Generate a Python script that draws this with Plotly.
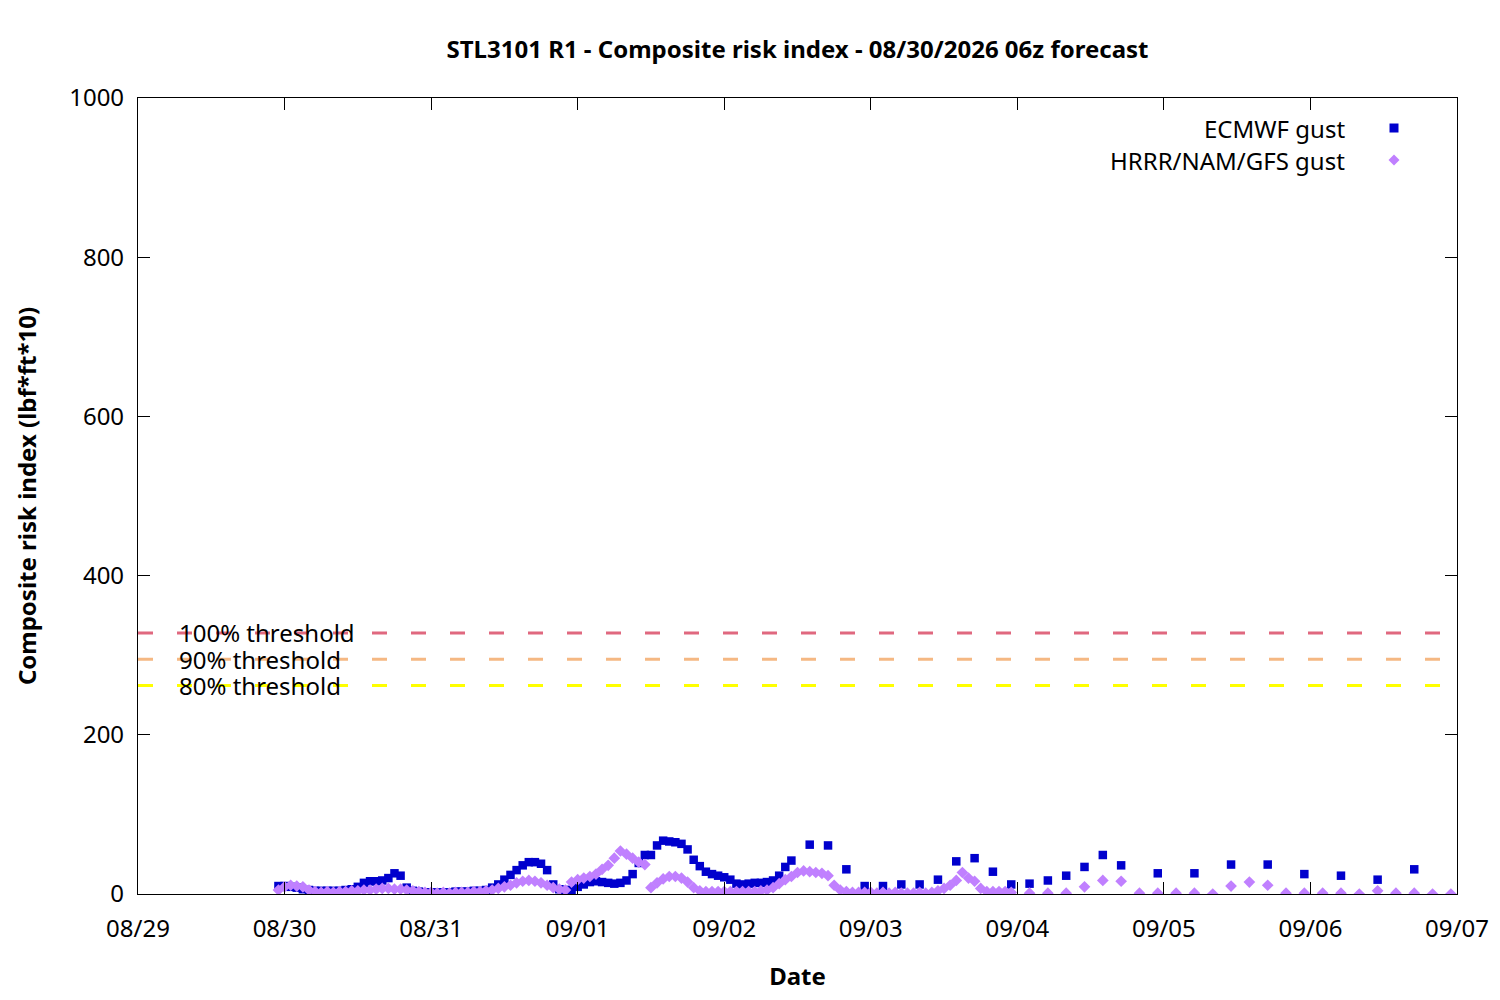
import pandas as pd
import plotly.graph_objects as go

# forecast hours are counted from the first valid time
start_time = pd.Timestamp("2026-08-29 23:00")

ecmwf_hours = list(range(0, 85)) + list(range(87, 139, 3)) + list(range(144, 187, 6))
ecmwf_gust = [
    10, 10, 9, 8, 6, 5, 4, 4, 4, 4, 4, 5, 6, 9, 14, 16, 16, 17, 20, 26, 23, 8, 4, 3,
    2, 2, 2, 2, 2, 3, 3, 3, 4, 4, 5, 8, 12, 18, 24, 30, 36, 40, 40, 38, 30, 12, 6, 5,
    5, 9, 12, 15, 16, 15, 14, 13, 14, 17, 25, 39, 49, 49, 61, 67, 66, 65, 63, 56, 43, 35, 28, 25,
    23, 21, 18, 13, 12, 13, 14, 14, 15, 17, 23, 34, 42,
    62, 61, 31, 10, 10, 12, 12, 18, 41, 45, 28, 12, 13, 17, 23, 34, 49, 36,
    26, 26, 37, 37, 25, 23, 18, 31,
]

hrrr_hours = list(range(0, 121)) + list(range(123, 193, 3))
hrrr_gust = [
    5, 9, 11, 10, 9, 5, 3, 2, 3, 2, 3, 3, 4, 4, 5, 5, 6, 7, 7, 6, 6, 5, 4, 3,
    2, 2, 1, 2, 1, 2, 2, 2, 3, 3, 4, 5, 7, 9, 11, 14, 16, 17, 16, 14, 11, 8, 6, 5,
    15, 18, 20, 22, 25, 31, 36, 45, 54, 50, 45, 40, 37, 8, 14, 19, 22, 22, 20, 15, 8, 4, 3,
    3, 3, 3, 3, 3, 3, 3, 3, 4, 5, 8, 13, 18, 22, 27, 29, 28, 27, 26, 23, 11, 5,
    3, 2, 2, 2, 2, 1, 2, 1, 2, 1, 1, 1, 2, 1, 2, 4, 7, 11, 17, 27, 20, 16, 7, 3, 3, 3, 3, 2,
    1, 1, 1, 9, 17, 16, 1, 1, 1, 1, 0, 10, 15, 11, 1, 1, 1, 1, 0, 4, 1, 1, 0, 0,
]

threshold_names = ["100% threshold", "90% threshold", "80% threshold"]
threshold_values = [328, 295, 262]
threshold_colors = ["#e0687f", "#f5b883", "#ffff00"]

x_start, x_end = "2026-08-29", "2026-09-07"
font = "Noto Sans"
fsize = 24

ecmwf_time = start_time + pd.to_timedelta(ecmwf_hours, unit="h")
hrrr_time = start_time + pd.to_timedelta(hrrr_hours, unit="h")

fig = go.Figure()

for name, val, col in zip(threshold_names, threshold_values, threshold_colors):
    fig.add_trace(go.Scatter(x=[x_start, x_end], y=[val, val], mode="lines",
                             line=dict(color=col, width=3, dash="15px,24px"),
                             showlegend=False, hoverinfo="skip"))
    fig.add_annotation(x=(177 - 138) / 1319, xref="paper", y=val, yref="y",
                       text=name, showarrow=False, xanchor="left", yanchor="middle",
                       font=dict(family=font, size=fsize, color="black"))

fig.add_trace(go.Scatter(x=ecmwf_time, y=ecmwf_gust, mode="markers", name="ECMWF gust",
                         marker=dict(symbol="square", size=8.5, color="#0000cd", line=dict(width=0))))
fig.add_trace(go.Scatter(x=hrrr_time, y=hrrr_gust, mode="markers", name="HRRR/NAM/GFS gust",
                         marker=dict(symbol="diamond", size=9, color="#c080ff", line=dict(width=0))))

# gnuplot style key: text on the left, sample on the right
key_x_text = (1347 - 138) / 1319
key_x_sym = (1394 - 138) / 1319
key_rows = [(0.9623, "ECMWF gust"), (0.9221, "HRRR/NAM/GFS gust")]
for ky, label in key_rows:
    fig.add_annotation(x=key_x_text, xref="paper", y=ky, yref="paper", text=label,
                       showarrow=False, xanchor="right", yanchor="middle",
                       font=dict(family=font, size=fsize, color="black"))
fig.add_shape(type="rect", xref="paper", yref="paper", xsizemode="pixel", ysizemode="pixel",
              xanchor=key_x_sym, yanchor=key_rows[0][0], x0=-4.5, x1=4.5, y0=-4.5, y1=4.5,
              fillcolor="#0000cd", line=dict(width=0))
fig.add_shape(type="path", xref="paper", yref="paper", xsizemode="pixel", ysizemode="pixel",
              xanchor=key_x_sym, yanchor=key_rows[1][0],
              path="M -5.5 0 L 0 5.5 L 5.5 0 L 0 -5.5 Z",
              fillcolor="#c080ff", line=dict(width=0))

axis_style = dict(showline=True, linecolor="black", linewidth=1.2, mirror="ticks",
                  ticks="inside", ticklen=12, tickcolor="black", tickwidth=1.2,
                  showgrid=False, zeroline=False,
                  tickfont=dict(family=font, size=fsize, color="black"))

fig.update_xaxes(type="date", range=[x_start, x_end], dtick=86400000, tickformat="%m/%d",
                 ticklabelstandoff=13,
                 title=dict(text="<b>Date</b>", standoff=25,
                            font=dict(family=font, size=fsize, color="black")),
                 **axis_style)
fig.update_yaxes(range=[0, 1000], dtick=200, ticklabelstandoff=8,
                 title=dict(text="<b>Composite risk index (lbf*ft*10)</b>", standoff=25,
                            font=dict(family=font, size=fsize, color="black")),
                 **axis_style)

# page body adds an 8px offset, margins compensate for it
fig.update_layout(
    width=1500, height=1000,
    margin=dict(l=130, r=51, t=90, b=114),
    paper_bgcolor="white", plot_bgcolor="white",
    showlegend=False,
    title=dict(text="<b>STL3101 R1 - Composite risk index - 08/30/2026 06z forecast</b>",
               x=789.5 / 1500, xanchor="center", y=1 - 42 / 1000, yanchor="middle",
               font=dict(family=font, size=fsize, color="black")),
)

fig.write_html("out.html")
